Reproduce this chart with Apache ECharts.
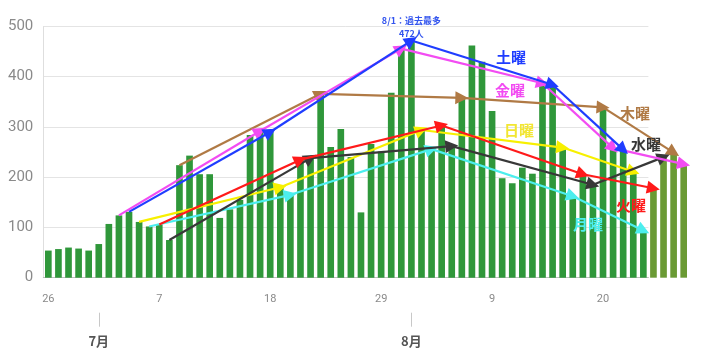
<!DOCTYPE html>
<html>
<head>
<meta charset="utf-8">
<script src="https://cdn.jsdelivr.net/npm/echarts@6/dist/echarts.min.js"></script>
<style>
html,body{margin:0;padding:0;background:#ffffff;}
#chart{width:709px;height:358px;}
</style>
</head>
<body>
<div id="chart"></div>
<script>
// ---- data ----
const dates = ['6/26','6/27','6/28','6/29','6/30',
  '7/1','7/2','7/3','7/4','7/5','7/6','7/7','7/8','7/9','7/10','7/11','7/12','7/13','7/14','7/15','7/16',
  '7/17','7/18','7/19','7/20','7/21','7/22','7/23','7/24','7/25','7/26','7/27','7/28','7/29','7/30','7/31',
  '8/1','8/2','8/3','8/4','8/5','8/6','8/7','8/8','8/9','8/10','8/11','8/12','8/13','8/14','8/15','8/16',
  '8/17','8/18','8/19','8/20','8/21','8/22','8/23','8/24'];
const cases = [54,57,60,58,54,
  67,107,124,131,111,102,106,75,224,243,206,206,119,136,155,284,
  292,290,180,165,235,238,366,260,296,240,130,266,251,368,456,
  472,294,256,303,262,358,462,430,332,198,188,219,207,387,384,259,
  162,206,185,339,258,255,211,94];
const latestDates = ['8/25','8/26','8/27','8/28'];
const latestCases = [178,240,249,226];
const yTicks = [0,100,200,300,400,500];

// weekday trend points (day indexes from 6/26)
const monIdx = [10,24,38,52,59];
const tueIdx = [11,25,39,53,60];
const wedIdx = [12,26,40,54,61];
const thuIdx = [13,27,41,55,62];
const friIdx = [7,21,35,49,56,63];
const satIdx = [8,22,36,50,57];
const sunIdx = [9,23,37,51,58];
const peakLabel = '8/1：過去最多';

// ---- build ----
const allDates = dates.concat(latestDates);
const allCases = cases.concat(latestCases);

const weekdays = [
  {name:'木曜', idx:thuIdx, color:'#b07a45', lx:635, ly:113},
  {name:'月曜', idx:monIdx, color:'#4ceeee', lx:588, ly:224},
  {name:'日曜', idx:sunIdx, color:'#f7f000', lx:519, ly:130, tcolor:'#f2e633'},
  {name:'水曜', idx:wedIdx, color:'#383838', lx:646, ly:144},
  {name:'火曜', idx:tueIdx, color:'#ff1a1a', lx:631, ly:205},
  {name:'金曜', idx:friIdx, color:'#f24cf2', lx:510, ly:90},
  {name:'土曜', idx:satIdx, color:'#1f3dff', lx:511, ly:57}
];

const band = 10.085;
const gridLeft = 43.3;
const gridTop = 26.5;
const gridBottom = 80.3;

const lineSeries = weekdays.map((w, n) => {
  const segs = [];
  for (let k = 1; k < w.idx.length; k++) {
    const a = w.idx[k-1], b = w.idx[k];
    segs.push({coords: [[a, allCases[a]], [b, allCases[b]]]});
  }
  return {
    type:'lines', name:w.name, coordinateSystem:'cartesian2d',
    xAxisIndex:2, yAxisIndex:1, z:10+n,
    symbol:['none','triangle'], symbolSize:[11,13],
    lineStyle:{color:w.color, width:2.2, opacity:1, curveness:0},
    itemStyle:{color:w.color},
    data: segs
  };
});

const barData = cases.map((v, i) => {
  if (dates[i] === '8/1') {
    return {value:v, label:{show:true, position:'top', distance:0,
      formatter: peakLabel + '\n' + v + '人',
      color:'#3355ee', fontSize:9, fontWeight:'bold', lineHeight:13.5,
      fontFamily:'Noto Sans CJK JP'}};
  }
  return v;
});

const option = {
  animation:false,
  backgroundColor:'#ffffff',
  grid:[
    {left:gridLeft, top:gridTop, bottom:gridBottom, width:band*dates.length},
    {left:gridLeft, top:gridTop, bottom:gridBottom, width:band*allDates.length}
  ],
  xAxis:[
    {type:'category', gridIndex:0, data:dates, boundaryGap:true,
     axisLine:{lineStyle:{color:'#bdbdbd'}}, axisTick:{show:false},
     axisLabel:{interval:10, margin:16, color:'#8a8a8a', fontSize:11, fontFamily:'Roboto',
       formatter:(v)=>v.split('/')[1]}},
    {type:'category', gridIndex:0, data:dates, position:'bottom', offset:35,
     axisLine:{show:false},
     axisTick:{show:true, alignWithLabel:true, length:14, lineStyle:{color:'#c8c8c8'},
       interval:(i,v)=>v.split('/')[1]==='1'},
     axisLabel:{margin:22, color:'#555', fontSize:13, fontWeight:'bold', fontFamily:'Noto Sans CJK JP',
       interval:(i,v)=>v.split('/')[1]==='1', formatter:(v)=>v.split('/')[0]+'月'}},
    {type:'category', gridIndex:1, data:allDates, show:false}
  ],
  yAxis:[
    {type:'value', gridIndex:0, min:yTicks[0], max:yTicks[yTicks.length-1], interval:100,
     axisLine:{show:true, lineStyle:{color:'#dedede'}}, axisTick:{show:false},
     splitLine:{lineStyle:{color:'#e4e4e4'}},
     axisLabel:{margin:10, color:'#8a8a8a', fontSize:15, fontFamily:'Roboto'}},
    {type:'value', gridIndex:1, min:yTicks[0], max:yTicks[yTicks.length-1], show:false, splitLine:{show:false}}
  ],
  series:[
    {type:'bar', xAxisIndex:0, yAxisIndex:0, data:barData, barWidth:'66%',
     itemStyle:{color:'#2f973a'}, z:2},
    {type:'bar', xAxisIndex:2, yAxisIndex:1,
     data: allDates.map((d,i)=> i < dates.length ? null : allCases[i]),
     barWidth:'66%', itemStyle:{color:'#6a9a34'}, z:2}
  ].concat(lineSeries),
  graphic: weekdays.map(w => ({
    type:'text', x:w.lx, y:w.ly, z:100,
    style:{text:w.name, fill:w.tcolor || w.color, font:'bold 15px "Noto Sans CJK JP"',
      align:'center', verticalAlign:'middle'}
  }))
};

const chart = echarts.init(document.getElementById('chart'), null, {renderer:'canvas'});
chart.setOption(option);
</script>
</body>
</html>
